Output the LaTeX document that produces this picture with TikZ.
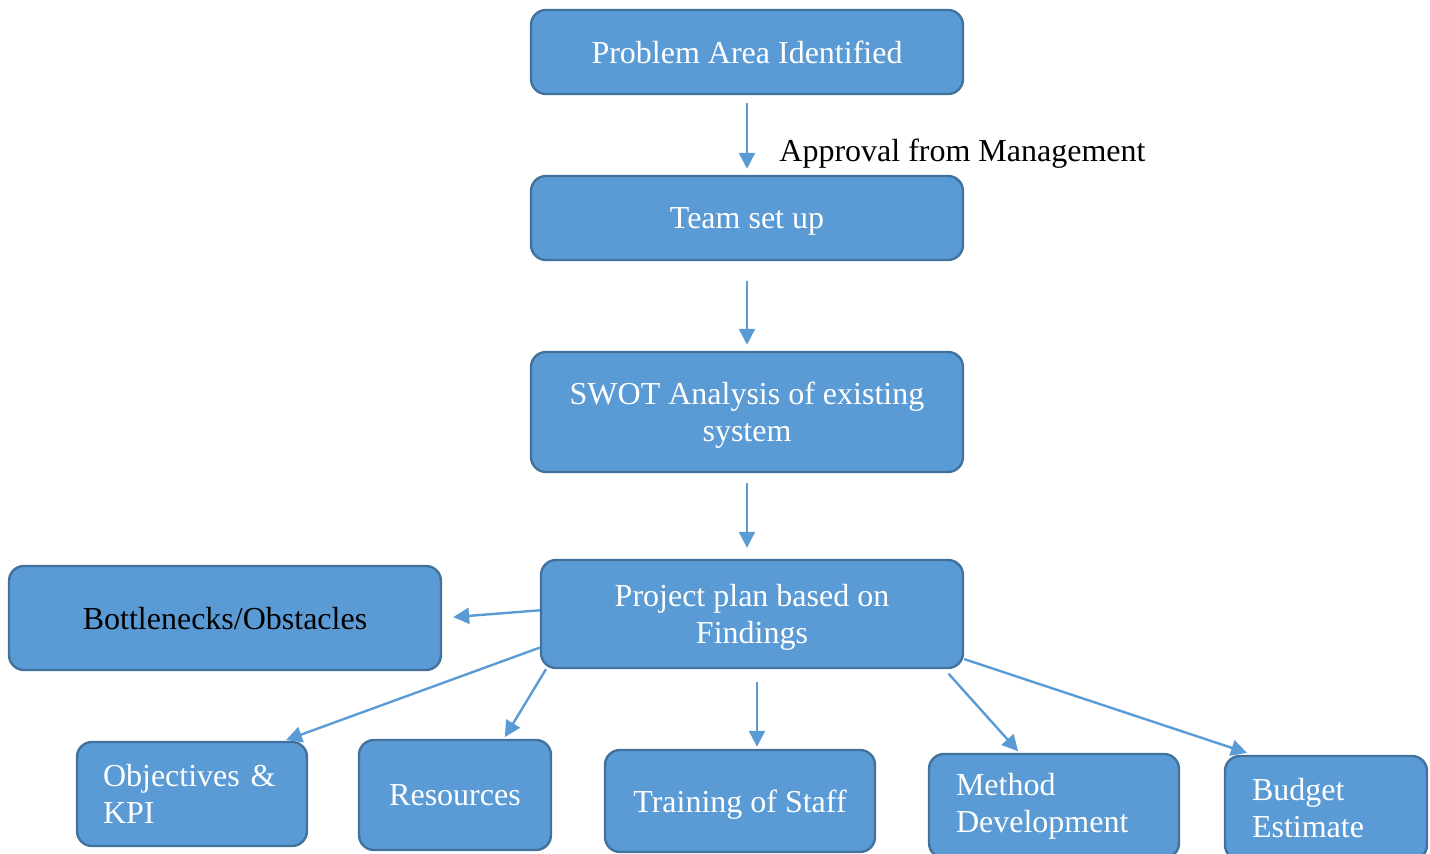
\documentclass[tikz,border=0pt]{standalone}
\usepackage{fontspec}
\setmainfont{Liberation Serif}
\usepackage{xcolor}
\usetikzlibrary{arrows.meta}
\definecolor{boxfill}{HTML}{5B9BD5}
\definecolor{boxline}{HTML}{41719C}
\tikzstyle{stage}=[draw=boxline,fill=boxfill,line width=1.2pt,rounded corners=7.5pt,text=white,inner sep=0pt,text depth=0pt,align=center,font=\fontsize{16}{18.5}\selectfont]
\tikzstyle{stageleft}=[stage,text depth=,align=left]
\tikzstyle{flow}=[draw=boxfill,line width=1.2pt,-{Triangle[length=8pt,width=8pt]}]
\tikzstyle{note}=[text=black,inner sep=0pt,anchor=west,font=\fontsize{16}{18.5}\selectfont]

\begin{document}
\begin{tikzpicture}[x=0.5pt,y=-0.5pt]
				\useasboundingbox (0,0) rectangle (1430,854);
				\node[stage,minimum width=216pt,minimum height=42pt] (prob) at (747,52) {Problem Area Identified};
				\node[stage,minimum width=216pt,minimum height=42pt] (team) at (747,218) {Team set up};
				\node[stage,minimum width=216pt,minimum height=60pt] (swot) at (747,412) {SWOT Analysis of existing\\system};
				\node[stage,minimum width=211pt,minimum height=54pt] (plan) at (752,614) {Project plan based on\\Findings};
				\node[stage,text=black,minimum width=216pt,minimum height=52pt] (bneck) at (225,618) {Bottlenecks/Obstacles};
				\node[stageleft,text width=89pt,minimum width=115pt,minimum height=52pt] (obj) at (192,794) {Objectives \&\\KPI};
				\node[stage,minimum width=96pt,minimum height=55pt] (res) at (455,795) {Resources};
				\node[stage,minimum width=135pt,minimum height=51pt] (train) at (740,801) {Training of Staff};
				\node[stageleft,text width=98pt,minimum width=125pt,minimum height=52pt] (meth) at (1054,806) {Method\\Development};
				\node[stageleft,text width=74pt,minimum width=101pt,minimum height=52pt] (budget) at (1326,808) {Budget\\Estimate};
				\node[note] (appr) at (779,154) {Approval from Management};
				\draw[flow,shorten <=4pt,shorten >=3pt] (prob) -- (team);
				\draw[flow,shorten <=10pt,shorten >=3pt] (team) -- (swot);
				\draw[flow,shorten <=5pt,shorten >=5.5pt] (swot.south) -- (swot.south |- plan.north);
				\draw[flow,shorten >=5.5pt] (plan.179) -- (bneck.east);
				\draw[flow,shorten >=1pt] (plan.189) -- (obj.30);
				\draw[flow,shorten >=1pt] (plan.195) -- (res.49);
				\draw[flow,shorten <=6.5pt,shorten >=1pt] ([xshift=2.5pt]plan.south) -- ([xshift=2.5pt]plan.south |- train.north);
				\draw[flow,shorten <=3pt,shorten >=1pt] (plan.344) -- (meth.123);
				\draw[flow,shorten >=3pt] (plan.348) -- (budget.144);
				\end{tikzpicture}
\end{document}
